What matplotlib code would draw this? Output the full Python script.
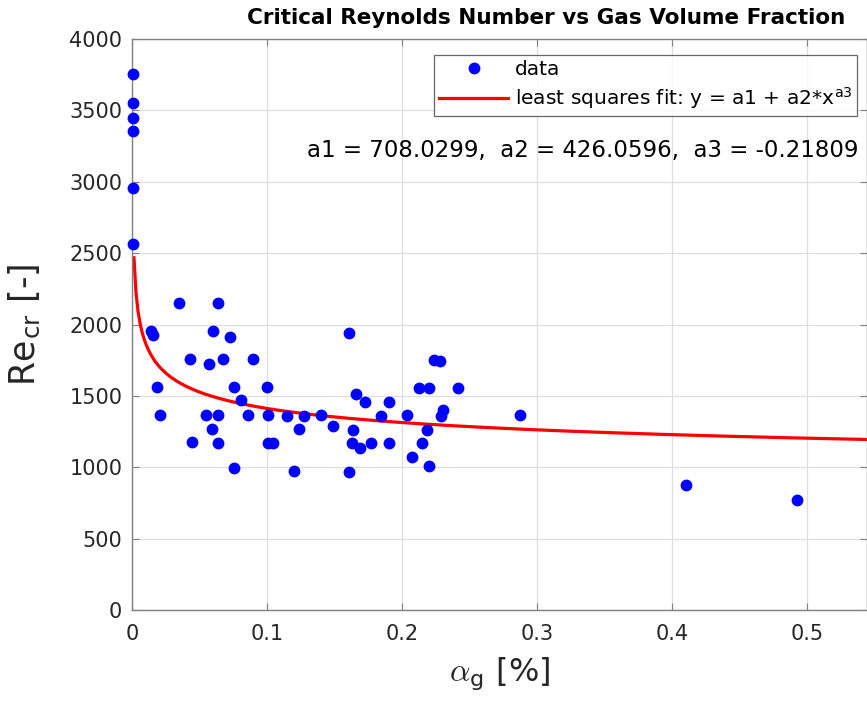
import numpy as np
import matplotlib
matplotlib.use('Agg')
import matplotlib.pyplot as plt

plt.rcParams['mathtext.fontset'] = 'cm'

# gas volume fraction [%] and critical Reynolds number
alpha_g = [0.0005, 0.0005, 0.0005, 0.0005, 0.0005, 0.0005,
           0.0349, 0.0641, 0.0142, 0.0154, 0.0604, 0.0723, 0.0431, 0.0570,
           0.0676, 0.0896, 0.0188, 0.0757, 0.1000, 0.0809, 0.0208, 0.0552,
           0.0636, 0.0861, 0.1010, 0.1148, 0.1274, 0.0594, 0.1240, 0.0444,
           0.0641, 0.1007, 0.1045, 0.0757, 0.1203,
           0.1401, 0.1490, 0.1605, 0.1605, 0.1662, 0.1729, 0.1635, 0.1633,
           0.1692, 0.1774, 0.1848, 0.1902, 0.1902, 0.2036, 0.2078, 0.2187,
           0.2150, 0.2199, 0.2130, 0.2202, 0.2236, 0.2286, 0.2417, 0.2306,
           0.2288,
           0.2874, 0.4105, 0.4927]
re_cr = [3753, 3549, 3444, 3355, 2954, 2561,
         2149, 2150, 1958, 1923, 1951, 1914, 1758, 1723,
         1758, 1758, 1565, 1561, 1561, 1470, 1367, 1367,
         1367, 1367, 1367, 1362, 1358, 1270, 1270, 1174,
         1167, 1170, 1170, 996, 977,
         1363, 1286, 1941, 970, 1514, 1460, 1263, 1170,
         1132, 1170, 1360, 1460, 1170, 1363, 1070, 1263,
         1170, 1007, 1554, 1554, 1751, 1744, 1554, 1402,
         1360,
         1364, 873, 774]

# fit parameters shown on the chart
a1, a2, a3 = 708.0299, 426.0596, -0.21809

x_fit = np.linspace(0.0015, 0.6, 400)
y_fit = a1 + a2 * x_fit ** a3

fig = plt.figure(figsize=(8.67, 7.03), dpi=100)
ax = fig.add_axes([0.1522, 0.1323, 0.8478, 0.8122])

ax.plot(alpha_g, re_cr, 'o', color='blue', markersize=7.5, label='data',
        clip_on=False, zorder=3)
ax.plot(x_fit, y_fit, '-', color='red', linewidth=2.3,
        label='least squares fit: y = a1 + a2*x$^{\\mathregular{a3}}$')

ax.set_xlim(0, 0.5446)
ax.set_ylim(0, 4000)
ax.set_xticks([0, 0.1, 0.2, 0.3, 0.4, 0.5])
ax.set_xticklabels(['0', '0.1', '0.2', '0.3', '0.4', '0.5'])
ax.set_yticks(np.arange(0, 4001, 500))

ax.grid(True, color='#dedede', linewidth=0.9)
ax.set_axisbelow(True)
for s in ax.spines.values():
    s.set_color('#808080')
    s.set_linewidth(1.0)
ax.tick_params(direction='in', length=5, color='#808080', labelsize=15,
               labelcolor='#262626', top=True, right=True)
ax.tick_params(axis='x', pad=10)
ax.tick_params(axis='y', pad=7)

ax.set_ylabel('Re$_{\\mathregular{cr}}$ [-]', fontsize=25, color='#262626',
              labelpad=19)
ax.set_xlabel('$\\alpha_{\\mathregular{g}}$ [%]', fontsize=23,
              color='#262626', labelpad=8)

fig.text(0.63, 0.974, 'Critical Reynolds Number vs Gas Volume Fraction',
         ha='center', va='center', fontsize=15.5, fontweight='bold')

leg = ax.legend(loc='upper right', bbox_to_anchor=(0.987, 0.972),
                fontsize=14.5, frameon=True, fancybox=False,
                edgecolor='#404040', handlelength=3.4, handletextpad=0.35,
                borderpad=0.25, labelspacing=0.3, borderaxespad=0)
leg.get_frame().set_linewidth(0.9)

ax.text(0.989, 0.805,
        'a1 = 708.0299,  a2 = 426.0596,  a3 = -0.21809',
        transform=ax.transAxes, ha='right', va='center', fontsize=16.5)

fig.savefig('out.png', dpi=100)
